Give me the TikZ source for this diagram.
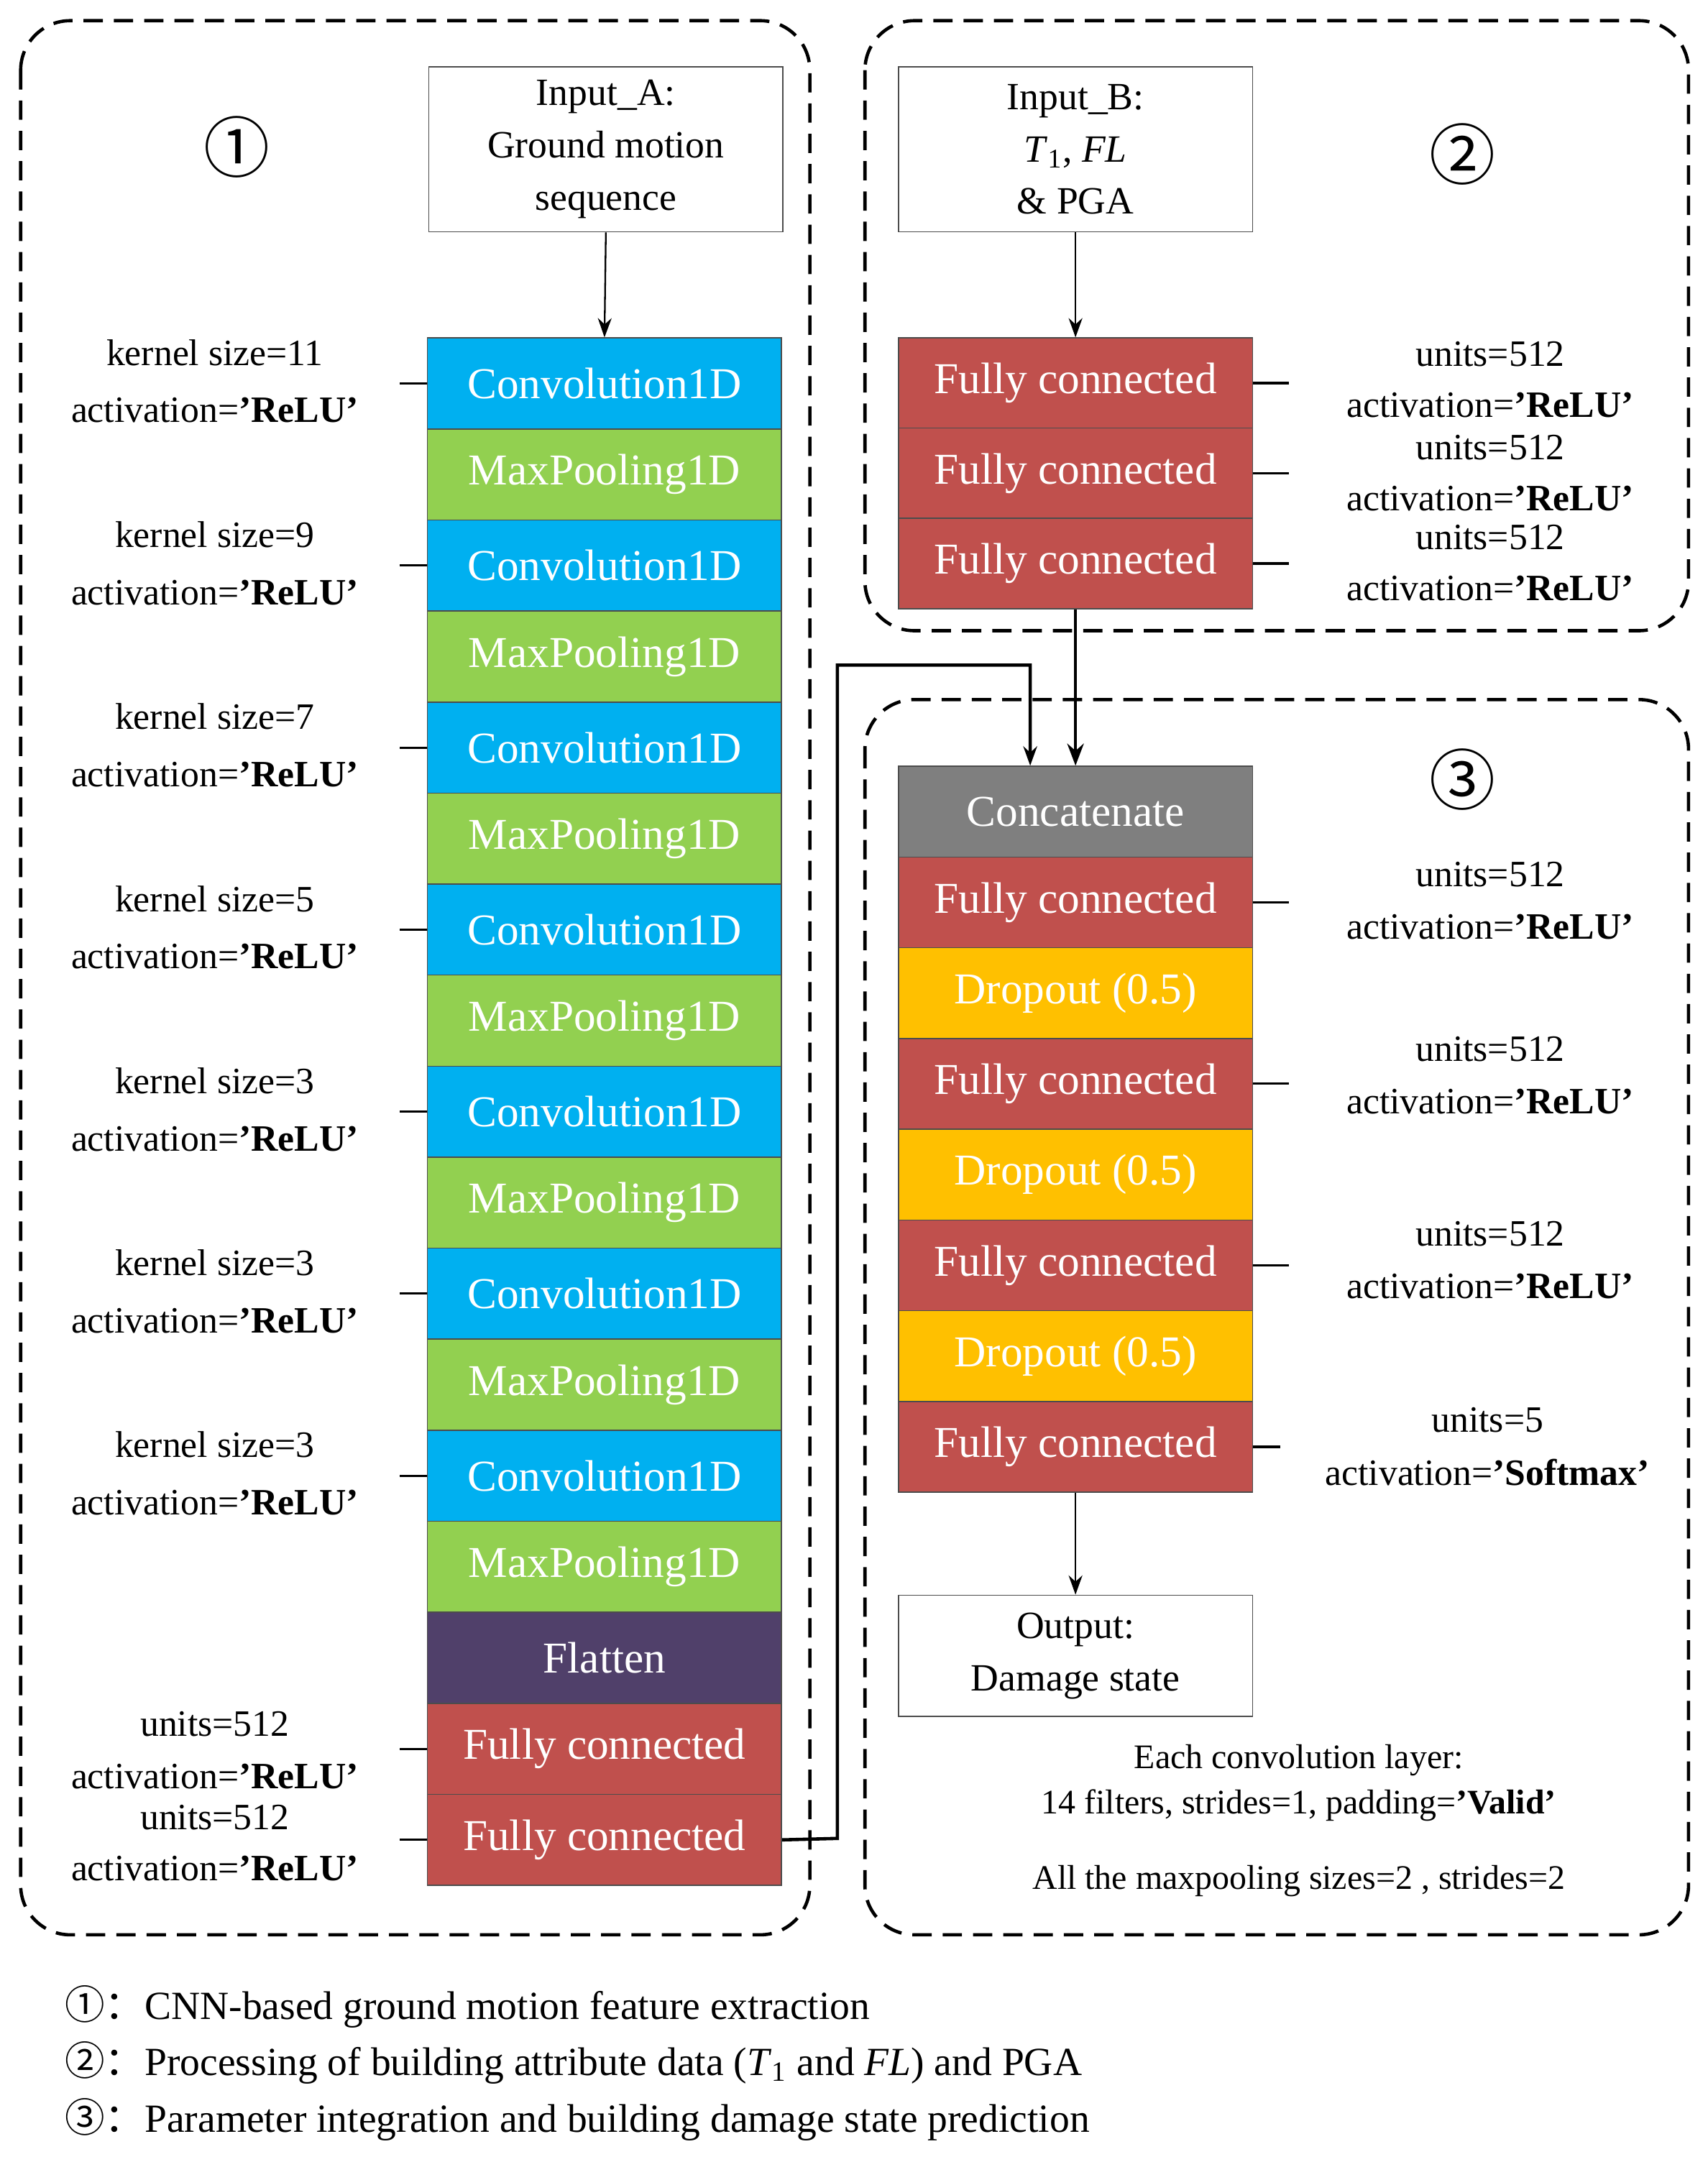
\documentclass[tikz,border=0pt]{standalone}
\usepackage{fontspec}
\setmainfont{Liberation Serif}
\newfontfamily\cjk{Noto Sans CJK SC}
\usetikzlibrary{arrows.meta}
\definecolor{conv}{RGB}{0,176,240}
\definecolor{mp}{RGB}{146,208,80}
\definecolor{fl}{RGB}{80,64,106}
\definecolor{fc}{RGB}{192,80,77}
\definecolor{dp}{RGB}{255,192,0}
\definecolor{cc}{RGB}{127,127,127}
\begin{document}
\begin{tikzpicture}[x=0.5pt,y=-0.5pt,
 grp/.style={draw,dashed,line width=1.2pt,rounded corners=18pt,dash pattern=on 7pt off 4pt},
 lay/.style={draw=black!70,minimum width=128.5pt,minimum height=33pt,inner sep=0pt,text=white,font=\fontsize{16}{18}\selectfont,anchor=north west},
 wb/.style={draw=black!70,minimum width=128.5pt,inner sep=0pt,font=\fontsize{14}{19}\selectfont,align=center,anchor=north west},
 lb/.style={font=\fontsize{13.5}{16}\selectfont},
 ar/.style={-{Stealth[length=7pt,width=5pt]},line width=0.6pt},
 tick/.style={line width=0.8pt}]
\useasboundingbox (0,0) rectangle (1240,1570);
\fill[white] (0,0) rectangle (1240,1570);
\draw[grp] (15,15) rectangle (588,1405);
\draw[grp] (628,15) rectangle (1226,458);
\draw[grp] (628,508) rectangle (1226,1405);
\node[font=\cjk\fontsize{24}{24}\selectfont] (c1) at (172,107) {①};
\node[font=\cjk\fontsize{24}{24}\selectfont] (c2) at (1062,112) {②};
\node[font=\cjk\fontsize{24}{24}\selectfont] (c3) at (1062,566) {③};
% Input A
\node[wb,minimum height=60pt] (ina) at (311,48) {Input\_A:\\Ground motion\\sequence};
% left stack
\foreach \i/\n/\c/\t in {0/L0/conv/Convolution1D,1/L1/mp/MaxPooling1D,2/L2/conv/Convolution1D,3/L3/mp/MaxPooling1D,4/L4/conv/Convolution1D,5/L5/mp/MaxPooling1D,6/L6/conv/Convolution1D,7/L7/mp/MaxPooling1D,8/L8/conv/Convolution1D,9/L9/mp/MaxPooling1D,10/L10/conv/Convolution1D,11/L11/mp/MaxPooling1D,12/L12/conv/Convolution1D,13/L13/mp/MaxPooling1D,14/L14/fl/Flatten,15/L15/fc/Fully connected,16/L16/fc/Fully connected}
 \node[lay,fill=\c,minimum height=33.05pt] (\n) at (310,245+\i*66.1) {\t};
\draw[ar] (ina.south) -- (L0.north);
\foreach \i/\k in {0/11,2/9,4/7,6/5,8/3,10/3,12/3}{
 \draw[tick] (L\i.west) -- ++(-20,0);
 \node[lb] (k\i) at (156,{245+\i*66.1+33-22}) {kernel size=\k};
 \node[lb] (a\i) at (156,{245+\i*66.1+33+20}) {activation=\textbf{'ReLU'}};
}
\foreach \i/\dy in {15/-18,16/0}{
 \draw[tick] (L\i.west) -- ++(-20,0);
}
\node[lb] (u15) at (156,1252) {units=512};
\node[lb] (v15) at (156,1290) {activation=\textbf{'ReLU'}};
\node[lb] (u16) at (156,1320) {units=512};
\node[lb] (v16) at (156,1357) {activation=\textbf{'ReLU'}};
% Input B
\node[wb,minimum height=60pt] (inb) at (652,48) {Input\_B:\\\textit{T}\textsubscript{1}, \textit{FL}\\\& PGA};
\foreach \i in {0,1,2}
 \node[lay,fill=fc,minimum height=32.8pt] (B\i) at (652,245+\i*65.5) {Fully connected};
\draw[ar] (inb.south) -- (B0.north);
\foreach \i/\y in {0/257,1/325,2/390}{
 \draw[tick] (B\i.east) -- ++(26,0);
 \node[lb] (bu\i) at (1082,\y) {units=512};
 \node[lb] (bv\i) at (1082,\y+37) {activation=\textbf{'ReLU'}};
}
% box 3 stack
\foreach \i/\n/\c/\t in {0/C0/cc/Concatenate,1/C1/fc/Fully connected,2/C2/dp/Dropout (0.5),3/C3/fc/Fully connected,4/C4/dp/Dropout (0.5),5/C5/fc/Fully connected,6/C6/dp/Dropout (0.5),7/C7/fc/Fully connected}
 \node[lay,fill=\c,minimum height=32.95pt] (\n) at (652,556+\i*65.9) {\t};
\coordinate (cin) at (782,556);
\draw[-{Stealth[length=8pt,width=6pt]},line width=1.2pt] (B2.south) -- (C0.north);
\coordinate (j1) at (608,1335);
\coordinate (j2) at (608,483);
\coordinate (j3) at (748,483);
\coordinate (j4) at (748,556);
\draw[ar,line width=1.2pt] (L16.east) -- (j1) -- (j2) -- (j3) -- (j4);
\foreach \i/\y in {1/635,3/762,5/896}{
 \draw[tick] (C\i.east) -- ++(26,0);
 \node[lb] (cu\i) at (1082,\y) {units=512};
 \node[lb] (cv\i) at (1082,\y+38) {activation=\textbf{'ReLU'}};
}
\draw[tick] (C7.east) -- ++(20,0);
\node[lb] (cu7) at (1080,1031) {units=5};
\node[lb] (cv7) at (1080,1069) {activation=\textbf{'Softmax'}};
\node[wb,minimum height=44pt] (out) at (652,1158) {Output:\\Damage state};
\draw[ar] (C7.south) -- (out.north);
\node[font=\fontsize{12.5}{15}\selectfont] (n1) at (943,1278) {Each convolution layer:};
\node[font=\fontsize{12.5}{15}\selectfont] (n2) at (943,1311) {14 filters, strides=1, padding=\textbf{'Valid'}};
\node[font=\fontsize{12.5}{15}\selectfont] (n3) at (943,1366) {All the maxpooling sizes=2 , strides=2};
% legend
\node[anchor=west,font=\fontsize{14.5}{17}\selectfont] (g1) at (40,1457) {{\cjk ①：}CNN-based ground motion feature extraction};
\node[anchor=west,font=\fontsize{14.5}{17}\selectfont] (g2) at (40,1498) {{\cjk ②：}Processing of building attribute data (\textit{T}\textsubscript{1} and \textit{FL}) and PGA};
\node[anchor=west,font=\fontsize{14.5}{17}\selectfont] (g3) at (40,1539) {{\cjk ③：}Parameter integration and building damage state prediction};
\end{tikzpicture}
\end{document}
